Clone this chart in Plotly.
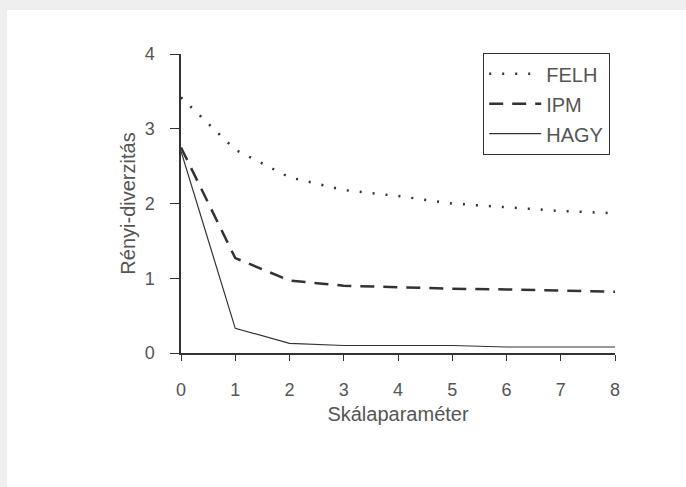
import plotly.graph_objects as go

x_vals = [0, 1, 2, 3, 4, 5, 6, 7, 8]
felh = [3.42, 2.72, 2.35, 2.18, 2.1, 2.0, 1.95, 1.9, 1.87]
ipm = [2.75, 1.27, 0.97, 0.9, 0.88, 0.86, 0.85, 0.83, 0.82]
hagy = [2.7, 0.33, 0.13, 0.1, 0.1, 0.1, 0.08, 0.08, 0.08]

x_ticks = [0, 1, 2, 3, 4, 5, 6, 7, 8]
y_ticks = [0, 1, 2, 3, 4]

FONT = "Arial, Liberation Sans, sans-serif"
INK = "#333333"
LABEL = "#555555"

fig = go.Figure()
fig.add_trace(go.Scatter(x=x_vals, y=felh, name="FELH", mode="lines", legendgroup="a",
                         line=dict(color=INK, width=2.5, dash="2px,11px")))
fig.add_trace(go.Scatter(x=x_vals, y=ipm, name="IPM", mode="lines", legendgroup="b",
                         line=dict(color=INK, width=2.5, dash="14px,9px")))
fig.add_trace(go.Scatter(x=x_vals, y=hagy, name="HAGY", mode="lines", legendgroup="c",
                         line=dict(color=INK, width=1.2)))

L, R, T, B = 181, 71, 54, 134
W, H = 686, 487
pw, ph = W - L - R, H - T - B

def px2x(px):
    return (px - L) / pw

def py2y(py):
    return (H - B - py) / ph

fig.add_shape(type="rect", xref="paper", yref="paper",
              x0=px2x(7), x1=px2x(700), y0=py2y(500), y1=py2y(10),
              fillcolor="white", line=dict(width=0), layer="below")

fig.update_layout(
    width=W, height=H,
    margin=dict(l=L, r=R, t=T, b=B, autoexpand=False),
    paper_bgcolor="#efefef",
    plot_bgcolor="white",
    font=dict(family=FONT, color=LABEL, size=17),
    showlegend=True,
    legend=dict(x=px2x(483), y=py2y(53), xanchor="left", yanchor="top",
                bgcolor="white", bordercolor=INK, borderwidth=1.2,
                font=dict(family=FONT, size=20, color=LABEL),
                itemwidth=52, tracegroupgap=1),
    xaxis=dict(range=[0, 8], tickvals=x_ticks, ticks="outside", ticklen=6,
               tickcolor=INK, showline=True, linecolor=INK, linewidth=1.5,
               showgrid=False, zeroline=False, ticklabelstandoff=14,
               automargin=True,
               tickfont=dict(size=18, color=LABEL),
               title=dict(text="Skálaparaméter", font=dict(size=20, color=LABEL), standoff=8)),
    yaxis=dict(range=[0, 4], tickvals=y_ticks, ticks="outside", ticklen=9,
               tickcolor=INK, showline=True, linecolor=INK, linewidth=1.5,
               showgrid=False, zeroline=False, ticklabelstandoff=12,
               automargin=True,
               tickfont=dict(size=18, color=LABEL),
               title=dict(text="Rényi-diverzitás", font=dict(size=20, color=LABEL), standoff=4)),
)

fig.write_html("out.html", config={"displayModeBar": False},
               post_script="document.body.style.margin='0';")
